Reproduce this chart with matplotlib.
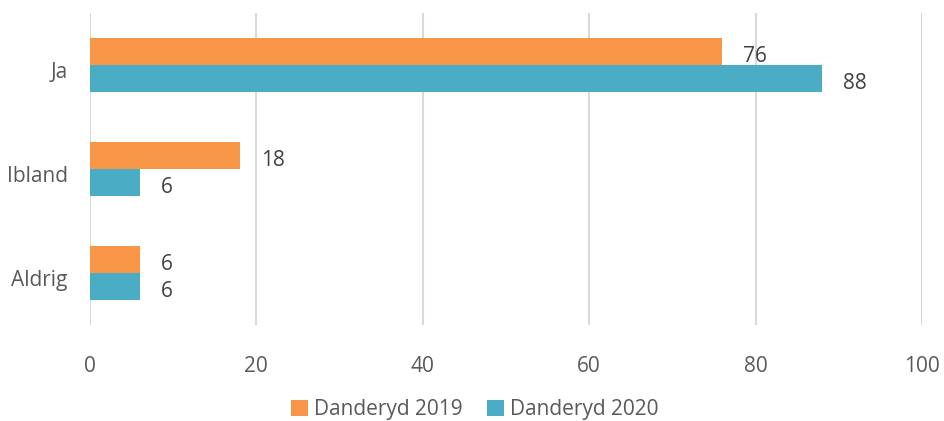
import numpy as np
import matplotlib.pyplot as plt
from matplotlib.transforms import ScaledTranslation

categories = ['Aldrig', 'Ibland', 'Ja']
danderyd_2019 = [6, 18, 76]
danderyd_2020 = [6, 6, 88]
series_names = ['Danderyd 2019', 'Danderyd 2020']
xticks = [0, 20, 40, 60, 80, 100]

plt.rcParams['font.family'] = ['Open Sans', 'DejaVu Sans']
text_color = '#595959'

fig = plt.figure(figsize=(9.44, 4.21), dpi=100)
ax = fig.add_axes([0.0953, 0.228, 0.8814, 0.741])

y = np.arange(len(categories))
h = 0.26
b1 = ax.barh(y + h / 2, danderyd_2019, height=h, color='#F79646', label=series_names[0], zorder=2)
b2 = ax.barh(y - h / 2, danderyd_2020, height=h, color='#4BACC6', label=series_names[1], zorder=2)

# nudge text a few px down, like the original
for bars in (b1, b2):
    for t in ax.bar_label(bars, padding=15, fontsize=15, color='#404040'):
        t.xyann = (15, -3.6)

ax.set_xlim(0, 100)
ax.set_ylim(-0.5, 2.5)
ax.set_xticks(xticks)
ax.set_yticks(y)
ax.set_yticklabels(categories)
ax.tick_params(length=0, labelsize=15, labelcolor=text_color)
ax.tick_params(axis='x', pad=22)
ax.tick_params(axis='y', pad=16)
shift = ScaledTranslation(0, -0.05, fig.dpi_scale_trans)
for t in ax.get_yticklabels():
    t.set_transform(t.get_transform() + shift)
ax.grid(axis='x', color='#D9D9D9', linewidth=1.5, zorder=0)
for s in ax.spines.values():
    s.set_visible(False)

leg = fig.legend(handles=[b1, b2], loc='lower center', bbox_to_anchor=(0.503, -0.042), ncol=2,
                 frameon=False, fontsize=15, handlelength=0.8, handleheight=0.8,
                 handletextpad=0.3, columnspacing=1.2)
for t in leg.get_texts():
    t.set_color(text_color)

fig.savefig('out.png', dpi=100)
